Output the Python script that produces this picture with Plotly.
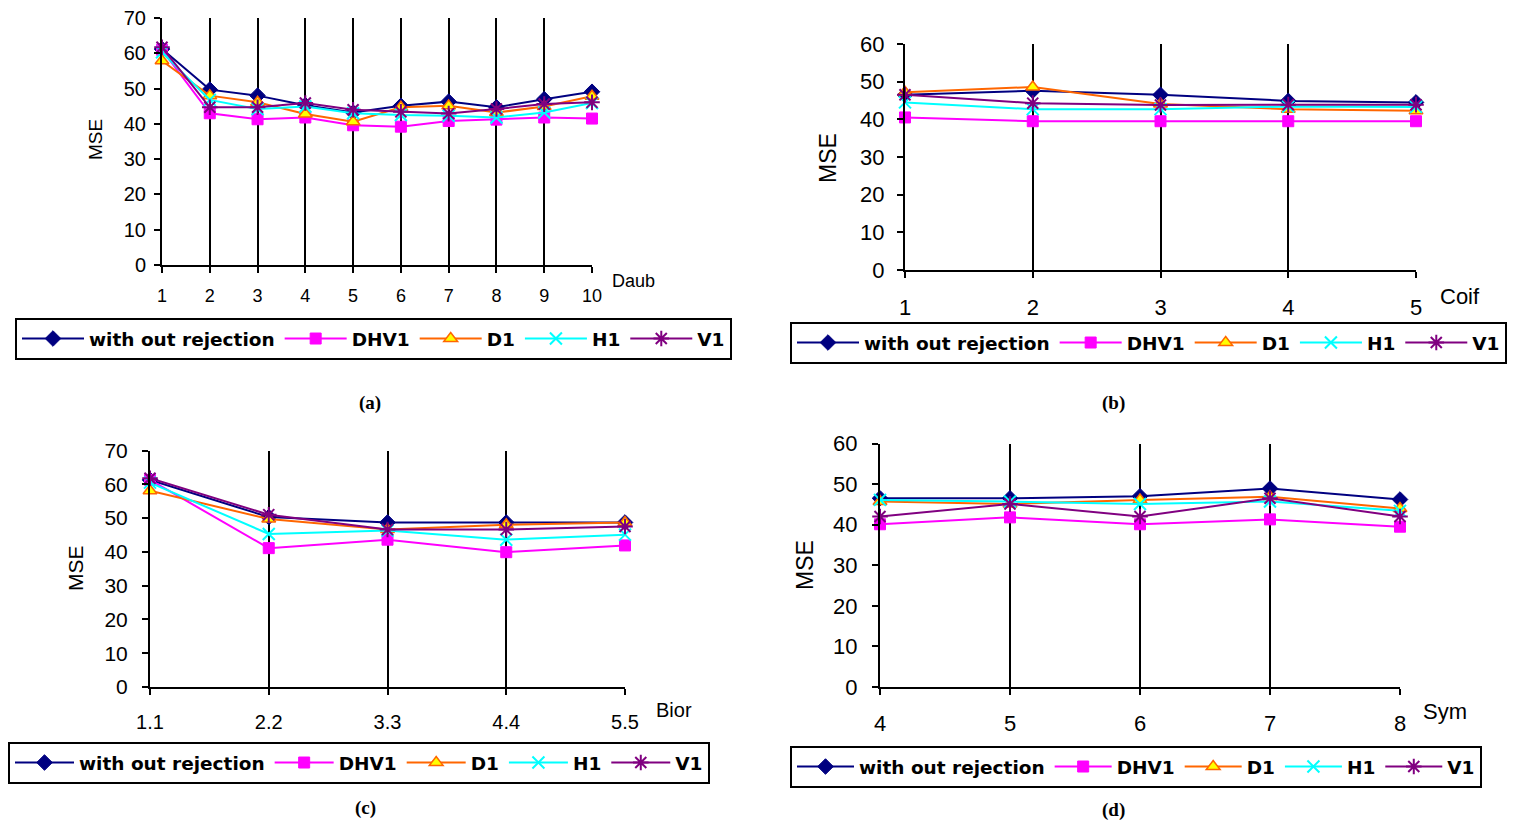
import plotly.graph_objects as go

series_names = ["with out rejection", "DHV1", "D1", "H1", "V1"]

daub_x = ["1", "2", "3", "4", "5", "6", "7", "8", "9", "10"]
daub_wo = [61.2, 49.7, 48.0, 45.3, 43.2, 45.1, 46.3, 44.7, 47.0, 49.1]
daub_dhv1 = [61.0, 43.0, 41.3, 41.8, 39.6, 39.2, 40.8, 41.2, 41.8, 41.5]
daub_d1 = [57.9, 48.0, 46.1, 42.8, 40.6, 44.7, 45.1, 43.2, 44.9, 47.8]
daub_h1 = [60.3, 46.8, 44.2, 44.9, 43.0, 42.5, 42.3, 41.8, 43.2, 45.9]
daub_v1 = [61.7, 44.7, 44.7, 45.9, 44.0, 43.4, 42.9, 44.2, 45.6, 46.1]

coif_x = ["1", "2", "3", "4", "5"]
coif_wo = [46.5, 47.6, 46.5, 44.9, 44.5]
coif_dhv1 = [40.5, 39.5, 39.5, 39.5, 39.5]
coif_d1 = [47.2, 48.6, 44.1, 42.7, 42.3]
coif_h1 = [44.5, 42.7, 42.7, 43.4, 43.3]
coif_v1 = [46.5, 44.3, 43.8, 43.9, 43.9]

bior_x = ["1.1", "2.2", "3.3", "4.4", "5.5"]
bior_wo = [61.3, 50.3, 48.7, 48.7, 48.7]
bior_dhv1 = [61.3, 41.1, 43.6, 39.9, 41.9]
bior_d1 = [58.1, 49.7, 46.6, 48.0, 48.7]
bior_h1 = [60.5, 45.3, 46.3, 43.6, 45.1]
bior_v1 = [61.8, 51.0, 46.6, 46.6, 47.5]

sym_x = ["4", "5", "6", "7", "8"]
sym_wo = [46.5, 46.5, 47.0, 48.9, 46.2]
sym_dhv1 = [40.1, 41.8, 40.1, 41.3, 39.5]
sym_d1 = [45.7, 45.1, 46.1, 46.9, 44.0]
sym_h1 = [46.1, 45.7, 45.1, 45.7, 43.4]
sym_v1 = [42.0, 45.1, 42.0, 46.5, 42.0]

# page body has an 8px margin: lay out in window pixels, figure is shifted by it
OFF = 8
W, H = 1516 - OFF, 823 - OFF

def px(x):
    return (x - OFF) / W

def py(y):
    return 1 - (y - OFF) / H

styles = [
    dict(line=dict(color="#000080", width=2),
         marker=dict(symbol="diamond", size=12, color="#000080", line=dict(color="#000080", width=1))),
    dict(line=dict(color="#FF00FF", width=2),
         marker=dict(symbol="square", size=11, color="#FF00FF", line=dict(color="#FF00FF", width=1))),
    dict(line=dict(color="#FF6600", width=2),
         marker=dict(symbol="triangle-up", size=12, color="#FFFF00", line=dict(color="#FF6600", width=1.5))),
    dict(line=dict(color="#00FFFF", width=2),
         marker=dict(symbol="x-thin", size=12, color="#00FFFF", line=dict(color="#00FFFF", width=2))),
    dict(line=dict(color="#800080", width=2),
         marker=dict(symbol="asterisk", size=13, color="#800080", line=dict(color="#800080", width=2))),
]

panels = [
    dict(cats=daub_x, data=[daub_wo, daub_dhv1, daub_d1, daub_h1, daub_v1], ymax=70,
         dom_x=(162, 592), dom_y=(18, 265), tick_fs=20, xtick_fs=18, xstand=7, ystand=4,
         name="Daub", name_xy=(633, 281), name_fs=18,
         mse_xy=(96, 140), mse_fs=19,
         leg_xy=(15, 318), leg_iw=62, cap="(a)", cap_xy=(370, 403)),
    dict(cats=coif_x, data=[coif_wo, coif_dhv1, coif_d1, coif_h1, coif_v1], ymax=60,
         dom_x=(905, 1416), dom_y=(44, 270), tick_fs=22, xtick_fs=22, xstand=11, ystand=8,
         name="Coif", name_xy=(1460, 297), name_fs=22,
         mse_xy=(828, 158), mse_fs=23,
         leg_xy=(790, 322), leg_iw=62, cap="(b)", cap_xy=(1113, 403)),
    dict(cats=bior_x, data=[bior_wo, bior_dhv1, bior_d1, bior_h1, bior_v1], ymax=70,
         dom_x=(150, 625), dom_y=(450.5, 687), tick_fs=21, xtick_fs=20, xstand=10, ystand=10,
         name="Bior", name_xy=(674, 710), name_fs=20,
         mse_xy=(75, 568), mse_fs=21,
         leg_xy=(8, 742), leg_iw=59, cap="(c)", cap_xy=(365, 808)),
    dict(cats=sym_x, data=[sym_wo, sym_dhv1, sym_d1, sym_h1, sym_v1], ymax=60,
         dom_x=(880, 1400), dom_y=(443.5, 687), tick_fs=22, xtick_fs=22, xstand=10, ystand=10,
         name="Sym", name_xy=(1445, 711), name_fs=22,
         mse_xy=(805, 565), mse_fs=23,
         leg_xy=(790, 746), leg_iw=57, cap="(d)", cap_xy=(1113, 810)),
]

fig = go.Figure()
annotations = []
layout = {}
font_family = "Liberation Sans, Arial, sans-serif"
legend_family = "DejaVu Sans, Liberation Sans, sans-serif"

for i, p in enumerate(panels):
    k = "" if i == 0 else str(i + 1)
    xa, ya = "x" + k, "y" + k
    leg = "legend" + k
    idx = list(range(len(p["cats"])))
    for s, (nm, vals) in enumerate(zip(series_names, p["data"])):
        fig.add_trace(go.Scatter(
            x=idx, y=vals, mode="lines+markers", name=nm,
            xaxis=xa, yaxis=ya, legend=leg, cliponaxis=False,
            **styles[s]))
    layout["xaxis" + k] = dict(
        domain=[px(p["dom_x"][0]), px(p["dom_x"][1])], anchor=ya,
        range=[0, len(idx) - 1], tickvals=idx, ticktext=p["cats"],
        showgrid=True, gridcolor="black", gridwidth=1.5,
        showline=True, linecolor="black", linewidth=2,
        ticks="outside", ticklen=6, tickwidth=1.5, tickcolor="black",
        ticklabelstandoff=p["xstand"], ticklabeloverflow="allow",
        zeroline=False, automargin=False,
        tickfont=dict(family=font_family, size=p["xtick_fs"], color="black"))
    layout["yaxis" + k] = dict(
        domain=[py(p["dom_y"][1]), py(p["dom_y"][0])], anchor=xa,
        range=[0, p["ymax"]], dtick=10, showgrid=False,
        showline=True, linecolor="black", linewidth=2,
        ticks="outside", ticklen=6, tickwidth=1.5, tickcolor="black",
        ticklabelstandoff=p["ystand"], ticklabeloverflow="allow",
        zeroline=False, automargin=False,
        tickfont=dict(family=font_family, size=p["tick_fs"], color="black"))
    layout[leg] = dict(
        x=px(p["leg_xy"][0]), y=py(p["leg_xy"][1]), xanchor="left", yanchor="top",
        orientation="h", bordercolor="black", borderwidth=2, bgcolor="white",
        font=dict(family=legend_family, size=18.5, color="black", weight="bold"),
        itemwidth=p["leg_iw"], tracegroupgap=0)
    annotations.append(dict(
        x=px(p["name_xy"][0]), y=py(p["name_xy"][1]), xref="paper", yref="paper",
        text=p["name"], showarrow=False, xanchor="center", yanchor="middle",
        font=dict(family=font_family, size=p["name_fs"], color="black")))
    annotations.append(dict(
        x=px(p["mse_xy"][0]), y=py(p["mse_xy"][1]), xref="paper", yref="paper",
        text="MSE", showarrow=False, textangle=-90, xanchor="center", yanchor="middle",
        font=dict(family=font_family, size=p["mse_fs"], color="black")))
    annotations.append(dict(
        x=px(p["cap_xy"][0]), y=py(p["cap_xy"][1]), xref="paper", yref="paper",
        text="<b>" + p["cap"] + "</b>", showarrow=False, xanchor="center", yanchor="middle",
        font=dict(family="Liberation Serif, Times New Roman, serif", size=19, color="black")))

fig.update_layout(
    width=W, height=H, margin=dict(l=0, r=0, t=0, b=0, autoexpand=False),
    paper_bgcolor="white", plot_bgcolor="white",
    annotations=annotations, showlegend=True, **layout)

fig.write_html("out.html", config={"displayModeBar": False})
